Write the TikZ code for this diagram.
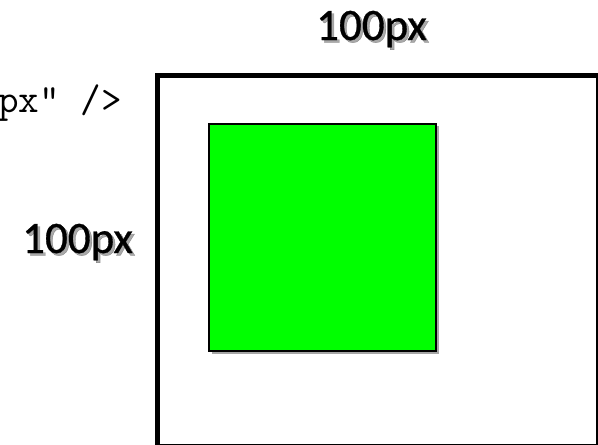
\documentclass[tikz,border=0pt]{standalone}
\usepackage{fontspec}
\newfontfamily\labelfont[FakeBold=0.7]{Carlito}
\definecolor{boxgreen}{HTML}{00FF00}
\tikzset{
  frame/.style={draw=black, line width=5pt},
  inner box/.style={draw=black, fill=boxgreen, line width=2pt},
  dimlabel/.style={font=\labelfont\fontsize{45}{45}\selectfont, inner sep=0pt, anchor=base west},
  codetext/.style={font=\ttfamily\fontsize{40}{40}\selectfont, inner sep=0pt, anchor=base east},
}
% label with a soft drop shadow
\newcommand{\shadowlabel}[3]{%
  \node[dimlabel, text=black!75, opacity=0.45] at ([xshift=2.5pt,yshift=-2.5pt]#1) {#3};
  \node[dimlabel, text=black] (#2) at (#1) {#3};
}
\begin{document}
\begin{tikzpicture}[x=1pt, y=-1pt]
  \useasboundingbox (0,0) rectangle (598,445);
  \clip (0,0) rectangle (598,445);
  % end of the markup line
  \node[codetext] (code) at (122,112) {px" />};
  % outer 100px frame
  \draw[frame] (157,75) rectangle (598,446);
  % inner element with its slight shadow
  \draw[black!35, line width=1.5pt] (212,353) -- (438,353) -- (438,126);
  \draw[inner box] (209,124) rectangle (436,351);
  % dimension labels
  \shadowlabel{316,40}{top}{100px}
  \shadowlabel{22,253}{side}{100px}
\end{tikzpicture}
\end{document}
